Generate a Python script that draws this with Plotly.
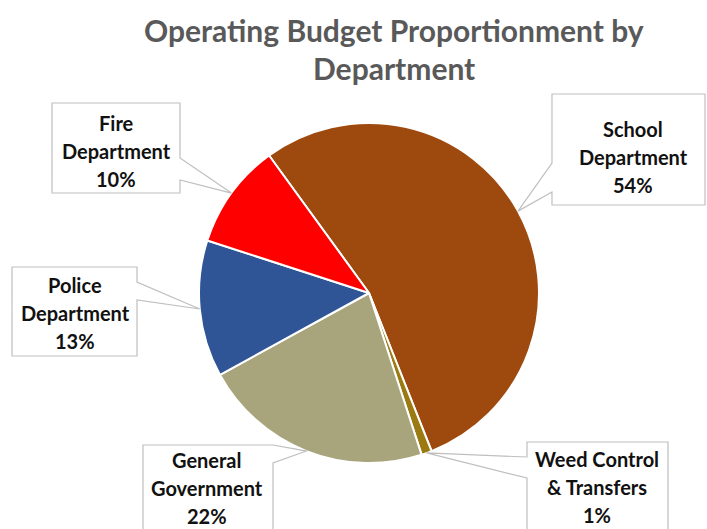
import math
import plotly.graph_objects as go

# Operating budget share by department (percent)
departments = ["School Department", "Weed Control & Transfers", "General Government",
               "Police Department", "Fire Department"]
label_lines = [["School", "Department"], ["Weed Control", "& Transfers"],
               ["General", "Government"], ["Police", "Department"], ["Fire", "Department"]]
shares = [54, 1, 22, 13, 10]
colors = ["#9E4A0F", "#9C7A12", "#A8A57D", "#2F5597", "#FF0000"]
title_lines = ["Operating Budget Proportionment by", "Department"]

W, H = 707, 529
CX, CY, R = 369, 293, 170          # pie centre / radius in pixels
ROTATION = -36                     # first slice starts this many degrees from 12 o'clock
LINE_GAP = 28                      # label line spacing in pixels

# callout boxes: (left, top, right, bottom), side of box the pointer leaves from,
# pointer base span along that side, text centre
callouts = [
    dict(box=(552, 94, 705, 205), side="left", base=(163, 192), text=(633, 157)),
    dict(box=(527, 442, 668, 545), side="left", base=(457, 478), text=(597, 487)),
    dict(box=(143, 445, 273, 545), side="right", base=(445, 463), text=(207, 488)),
    dict(box=(12, 267, 137, 356), side="right", base=(282, 300), text=(75, 313)),
    dict(box=(52, 103, 180, 193), side="right", base=(158, 180), text=(116, 151)),
]


def px(x):
    return x / W


def py(y):
    return 1 - y / H


fig = go.Figure(go.Pie(
    labels=departments,
    values=shares,
    sort=False,
    direction="clockwise",
    rotation=ROTATION,
    marker=dict(colors=colors, line=dict(color="white", width=2)),
    textinfo="none",
    hoverinfo="label+percent",
    showlegend=False,
    domain=dict(x=[px(CX - R), px(CX + R)], y=[py(CY + R), py(CY - R)]),
))

total = sum(shares)
shapes, annotations = [], []
start = ROTATION
for dept_lines, val, c in zip(label_lines, shares, callouts):
    sweep = 360 * val / total
    mid = math.radians(start + sweep / 2)
    start += sweep
    tip_x = CX + R * math.sin(mid)
    tip_y = CY - R * math.cos(mid)
    l, t, r, b = c["box"]
    b0, b1 = c["base"]
    if c["side"] == "left":
        pts = [(l, t), (r, t), (r, b), (l, b), (l, b1), (tip_x, tip_y), (l, b0)]
    else:
        pts = [(l, t), (r, t), (r, b0), (tip_x, tip_y), (r, b1), (r, b), (l, b)]
    path = "M " + " L ".join(f"{px(x):.5f},{py(y):.5f}" for x, y in pts) + " Z"
    shapes.append(dict(type="path", path=path, xref="paper", yref="paper",
                       fillcolor="white", line=dict(color="#BFBFBF", width=1.2),
                       layer="above"))
    pct = round(100 * val / total)
    lines = dept_lines + [f"{pct}%"]
    for i, line in enumerate(lines):
        ly = c["text"][1] + (i - (len(lines) - 1) / 2) * LINE_GAP
        annotations.append(dict(
            x=px(c["text"][0]), y=py(ly), xref="paper", yref="paper",
            text=line, showarrow=False, xanchor="center", yanchor="middle",
            borderpad=0,
            font=dict(family="Lato", size=20, color="#111111", weight="bold"),
        ))

# two-line chart title
for i, line in enumerate(title_lines):
    annotations.append(dict(
        x=px(394), y=py(30 + 38 * i), xref="paper", yref="paper",
        text=line, showarrow=False, xanchor="center", yanchor="middle",
        font=dict(family="Lato", size=30, color="#595959", weight="bold"),
    ))

fig.update_layout(
    width=W, height=H,
    margin=dict(l=0, r=0, t=0, b=0),
    paper_bgcolor="white", plot_bgcolor="white",
    shapes=shapes,
    annotations=annotations,
)

fig.write_html("out.html")
